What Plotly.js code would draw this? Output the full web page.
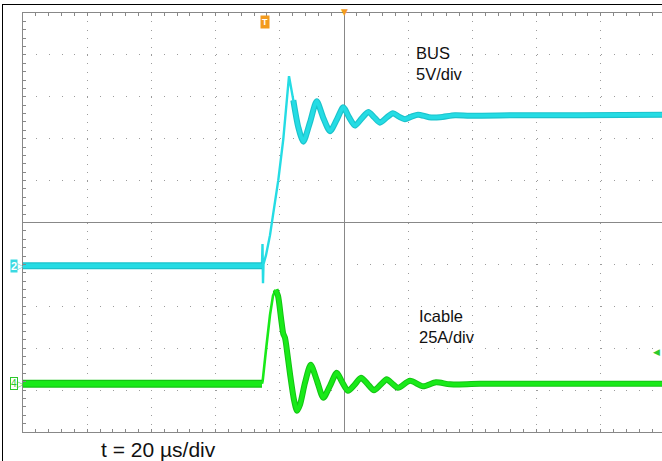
<!DOCTYPE html>
<html><head><meta charset="utf-8">
<script src="https://cdn.plot.ly/plotly-3.0.1.min.js"></script>
<style>
html,body{margin:0;padding:0;overflow:hidden;background:#fff;width:662px;height:461px;}
#frame{position:absolute;left:2px;top:4px;width:700px;height:500px;border-left:1.6px solid #000;border-top:1.6px solid #000;}
#chart{position:absolute;left:0;top:0;}
</style></head><body>
<div id="frame"></div>
<div id="chart"></div>
<script>
// Channel 2: BUS voltage (V) vs time (µs)
const busTime = [-100, -25.55, -25.39, -25.23, -25.08, -24.30, -23.05, -22.21, -20.47, -18.91, -17.91, -17.13, -15.79, -14.24, -12.68, -10.59, -8.50, -6.54, -4.36, -2.18, -0.22, 1.56, 3.43, 5.45, 7.57, 9.35, 11.21, 13.24, 15.26, 17.13, 19.00, 21.03, 23.05, 26.48, 29.91, 34.58, 39.25, 54.83, 73.52, 100];
const busVolt = [0, 0, 2.57, -2.09, 0.18, 1.25, 3.64, 5.79, 10.20, 15.10, 19.75, 22.61, 19.75, 16.53, 14.80, 17.12, 19.63, 17.72, 16.05, 17.48, 18.91, 17.72, 16.71, 17.54, 18.35, 17.72, 17.06, 17.66, 18.20, 17.78, 17.48, 17.78, 18.02, 17.72, 17.72, 17.96, 17.90, 17.96, 17.96, 18.02];
// Channel 4: cable current (A) vs time (µs)
const cableTime = [-100, -25.55, -25.33, -24.30, -23.05, -22.12, -21.34, -20.56, -19.63, -18.91, -18.38, -17.60, -16.82, -15.58, -14.64, -13.71, -12.15, -10.37, -8.41, -6.45, -4.36, -2.27, -0.62, 1.25, 3.27, 5.30, 7.32, 9.35, 11.37, 13.30, 15.11, 16.82, 20.56, 24.61, 28.66, 33.02, 42.37, 100];
const cableAmp = [0, 0, 1.79, 20.29, 41.17, 52.51, 56.09, 52.51, 39.38, 29.83, 27.45, 17.30, 5.97, -9.55, -16.11, -12.53, 0.60, 11.34, 1.79, -8.35, -1.19, 6.56, 1.19, -4.18, -0.60, 3.58, 0, -3.88, -0.60, 2.68, 0, -2.39, 1.79, -1.49, 0.89, -0.30, 0, 0];

// Scope settings
const busScale = 5;      // V/div
const cableScale = 25;   // A/div
const busOffset = -1.03; // div
const cableOffset = -3.85; // div
const triggerTime = -24.6; // µs
const triggerLevel = 19.2; // A
const xRange = [-100, 100];
const yRange = [-5, 5];

const toDiv = (vals, scale, off) => vals.map(v => v / scale + off);
const busY = toDiv(busVolt, busScale, busOffset);
const cabY = toDiv(cableAmp, cableScale, cableOffset);

function segment(t, y, keep) { return t.map((tt, i) => keep(tt) ? y[i] : null); }

const busThin = segment(busTime, busY, t => t >= -25.6 && t <= -15.7);
const busRing = segment(busTime, busY, t => t >= -15.8);
const busBase = segment(busTime, busY, t => t <= -25.55);
const cabThin = segment(cableTime, cabY, t => t >= -25.6 && t <= -21.3);
const cabRing = segment(cableTime, cabY, t => t >= -21.4);
const cabBase = segment(cableTime, cabY, t => t <= -25.55);

const cyan = '#25dce4', cyanDark = '#1bc3cc';
const green = '#19ea19', greenDark = '#14c314';

const L = (x, y, color, width, spline) => ({x, y, mode: 'lines', connectgaps: false,
  line: Object.assign({color, width}, spline ? {shape: 'spline', smoothing: 0.7} : {})});

const traces = [
  L(busTime, busThin, cyan, 2.4, false),
  L(busTime, busBase, cyanDark, 7, false),
  L(busTime, busBase, cyan, 4.5, false),
  L(busTime, busRing, cyanDark, 6, true),
  L(busTime, busRing, cyan, 3.8, true),
  L(cableTime, cabThin, green, 2.6, false),
  L(cableTime, cabBase, greenDark, 8, false),
  L(cableTime, cabBase, green, 5.5, false),
  L(cableTime, cabRing, greenDark, 6, true),
  L(cableTime, cabRing, green, 4, true)
].map(t => Object.assign(t, {hoverinfo: 'skip', showlegend: false}));

const gridGray = '#9c9c9c', lineGray = '#888888';
const baseX = {range: xRange, showticklabels: false, fixedrange: true};
const baseY = {range: yRange, showticklabels: false, fixedrange: true};

const layout = {
  width: 667, height: 461,
  margin: {l: 23, r: 2, t: 13, b: 29, pad: 0},
  paper_bgcolor: 'rgba(0,0,0,0)', plot_bgcolor: 'rgba(0,0,0,0)',
  showlegend: false,
  xaxis: Object.assign({}, baseX, {
    dtick: 20, tick0: 0, showgrid: true, gridcolor: gridGray, gridwidth: 1, griddash: '1px,7.38px',
    zeroline: true, zerolinecolor: lineGray, zerolinewidth: 1,
    showline: true, linecolor: lineGray, linewidth: 1, mirror: 'allticks',
    ticks: 'inside', ticklen: 3, tickcolor: lineGray,
    minor: {dtick: 4, ticks: 'inside', ticklen: 3, tickcolor: lineGray, showgrid: false}
  }),
  yaxis: Object.assign({}, baseY, {
    dtick: 1, tick0: 0, showgrid: true, gridcolor: gridGray, gridwidth: 1, griddash: '1px,11.84px',
    zeroline: true, zerolinecolor: lineGray, zerolinewidth: 1,
    showline: true, linecolor: lineGray, linewidth: 1, mirror: 'allticks',
    ticks: 'inside', ticklen: 3, tickcolor: lineGray,
    minor: {dtick: 0.2, ticks: 'inside', ticklen: 3, tickcolor: lineGray, showgrid: false}
  }),
  // center cross tick marks
  xaxis2: Object.assign({}, baseX, {overlaying: 'x', anchor: 'free', position: 0.5, showgrid: false, zeroline: false, showline: false,
    dtick: 20, ticks: 'outside', ticklen: 3, tickcolor: lineGray, minor: {dtick: 4, ticks: 'outside', ticklen: 3, tickcolor: lineGray}}),
  xaxis3: Object.assign({}, baseX, {overlaying: 'x', anchor: 'free', position: 0.5, showgrid: false, zeroline: false, showline: false,
    dtick: 20, ticks: 'inside', ticklen: 3, tickcolor: lineGray, minor: {dtick: 4, ticks: 'inside', ticklen: 3, tickcolor: lineGray}}),
  yaxis2: Object.assign({}, baseY, {overlaying: 'y', anchor: 'free', position: 0.5, showgrid: false, zeroline: false, showline: false,
    dtick: 1, ticks: 'outside', ticklen: 3, tickcolor: lineGray, minor: {dtick: 0.2, ticks: 'outside', ticklen: 3, tickcolor: lineGray}}),
  yaxis3: Object.assign({}, baseY, {overlaying: 'y', anchor: 'free', position: 0.5, showgrid: false, zeroline: false, showline: false,
    dtick: 1, ticks: 'inside', ticklen: 3, tickcolor: lineGray, minor: {dtick: 0.2, ticks: 'inside', ticklen: 3, tickcolor: lineGray}}),
  annotations: [
    {text: 'BUS<br>5V/div', xref: 'paper', yref: 'paper', x: 0.609, y: 0.879, xanchor: 'left', yanchor: 'middle', align: 'left', showarrow: false,
      font: {family: 'Liberation Sans, Arial, sans-serif', size: 16.5, color: '#111'}},
    {text: 'Icable<br>25A/div', xref: 'paper', yref: 'paper', x: 0.613, y: 0.251, xanchor: 'left', yanchor: 'middle', align: 'left', showarrow: false,
      font: {family: 'Liberation Sans, Arial, sans-serif', size: 16.5, color: '#111'}},
    {text: 't = 20 µs/div', xref: 'paper', yref: 'paper', x: 0.118, y: -0.041, xanchor: 'left', yanchor: 'middle', showarrow: false,
      font: {family: 'Liberation Sans, Arial, sans-serif', size: 21, color: '#111'}},
    // channel 2 ground marker
    {text: '<b>2</b>', xref: 'paper', yref: 'y', x: -0.0135, y: busOffset, xanchor: 'center', yanchor: 'middle', showarrow: false,
      bgcolor: '#3ad9e2', borderpad: 0, font: {family: 'Liberation Sans, Arial, sans-serif', size: 11, color: '#fff'}},
    {text: '▷', xref: 'paper', yref: 'y', x: -0.004, y: busOffset, xanchor: 'center', yanchor: 'middle', showarrow: false,
      font: {family: 'DejaVu Sans', size: 9, color: '#3ad9e2'}},
    // channel 4 ground marker
    {text: '4', xref: 'paper', yref: 'y', x: -0.0135, y: cableOffset, xanchor: 'center', yanchor: 'middle', showarrow: false,
      bgcolor: '#fff', bordercolor: '#2cc92c', borderwidth: 1, borderpad: 0, font: {family: 'Liberation Sans, Arial, sans-serif', size: 10, color: '#2cc92c'}},
    {text: '▷', xref: 'paper', yref: 'y', x: -0.004, y: cableOffset, xanchor: 'center', yanchor: 'middle', showarrow: false,
      font: {family: 'DejaVu Sans', size: 9, color: '#2cc92c'}},
    // trigger marker
    {text: '<b>T</b>', xref: 'x', yref: 'paper', x: triggerTime, y: 0.978, xanchor: 'center', yanchor: 'middle', showarrow: false,
      bgcolor: '#f39b1e', borderpad: 1, font: {family: 'Liberation Sans, Arial, sans-serif', size: 9, color: '#fff'}},
    {text: '▼', xref: 'x', yref: 'paper', x: 0, y: 1.0, xanchor: 'center', yanchor: 'middle', showarrow: false, yshift: 1,
      font: {family: 'DejaVu Sans', size: 9, color: '#f39b1e'}},
    // trigger level marker (right)
    {text: '◀', xref: 'paper', yref: 'y', x: 0.986, y: triggerLevel / cableScale + cableOffset, xanchor: 'center', yanchor: 'middle', showarrow: false,
      font: {family: 'DejaVu Sans', size: 9, color: '#2cc92c'}}
  ]
};

Plotly.newPlot('chart', traces, layout, {staticPlot: true, displayModeBar: false});
</script>
</body></html>
